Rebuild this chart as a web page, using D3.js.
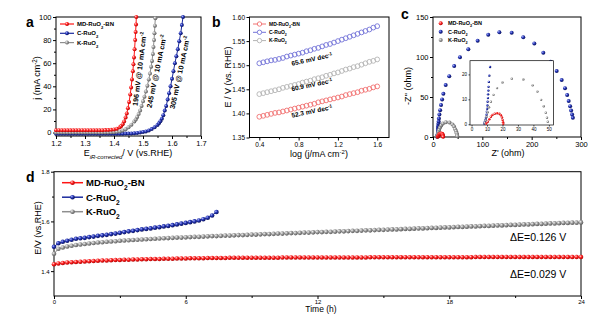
<!DOCTYPE html>
<html>
<head>
<meta charset="utf-8">
<script src="https://cdn.jsdelivr.net/npm/d3@7"></script>
<style>
body { margin: 0; background: #fff; }
svg text { font-family: Arial, "Liberation Sans", sans-serif; }
</style>
</head>
<body>
<svg id="fig" width="600" height="321"></svg>
<script>
// ---- data ----
const seriesNames = ["MD-RuO2-BN", "C-RuO2", "K-RuO2"];

// (a) LSV curves, [E (V), j (mA cm-2)]
const lsvRed = [[1.20,2.0],[1.21,2.0],[1.22,2.0],[1.23,2.0],[1.24,2.0],[1.25,2.0],[1.26,2.0],[1.27,2.0],[1.28,2.0],[1.29,2.0],
  [1.30,2.0],[1.31,2.0],[1.32,2.0],[1.33,2.0],[1.34,2.0],[1.35,2.0],[1.36,2.0],[1.37,2.1],[1.38,2.2],[1.39,2.4],
  [1.40,2.7],[1.41,3.3],[1.42,4.5],[1.425,5.6],[1.43,7.2],[1.435,9.5],[1.44,13.0],[1.444,16.5],[1.448,21.0],[1.452,26.5],
  [1.456,33.0],[1.459,39.0],[1.462,46.0],[1.465,53.0],[1.467,59.0],[1.469,65.0],[1.471,72.0],[1.473,80.0],[1.4745,87.0],[1.476,93.5],[1.477,100.0]];
const lsvBlue = [[1.20,-1.0],[1.21,-1.0],[1.22,-1.0],[1.23,-1.0],[1.24,-1.0],[1.25,-1.0],[1.26,-1.0],[1.27,-1.0],[1.28,-1.0],[1.29,-1.0],
  [1.30,-1.0],[1.31,-1.0],[1.32,-1.0],[1.33,-1.0],[1.34,-1.0],[1.35,-1.0],[1.36,-1.0],[1.37,-1.0],[1.38,-1.0],[1.39,-1.0],
  [1.40,-1.0],[1.41,-1.0],[1.42,-1.0],[1.43,-1.0],[1.44,-0.9],[1.45,-0.9],[1.46,-0.8],[1.47,-0.6],[1.48,-0.3],[1.49,0.1],
  [1.50,0.5],[1.51,1.0],[1.52,1.8],[1.53,3.0],[1.54,4.5],[1.55,6.5],[1.555,8.0],[1.56,9.7],[1.565,12.0],[1.57,15.0],
  [1.575,19.0],[1.58,23.0],[1.585,28.5],[1.59,34.0],[1.595,40.0],[1.60,46.5],[1.605,53.0],[1.61,60.0],[1.615,66.0],[1.62,72.0],
  [1.625,79.0],[1.63,86.0],[1.634,93.0],[1.638,100.0]];
const lsvGray = [[1.20,0.0],[1.21,0.0],[1.22,0.0],[1.23,0.0],[1.24,0.0],[1.25,0.0],[1.26,0.0],[1.27,0.0],[1.28,0.0],[1.29,0.0],
  [1.30,0.0],[1.31,0.0],[1.32,0.0],[1.33,0.0],[1.34,0.0],[1.35,0.0],[1.36,0.0],[1.37,0.1],[1.38,0.1],[1.39,0.2],
  [1.40,0.3],[1.41,0.6],[1.42,1.0],[1.43,1.8],[1.44,2.8],[1.45,4.5],[1.46,6.8],[1.47,9.5],[1.475,11.3],[1.48,13.5],
  [1.485,16.0],[1.49,19.0],[1.495,23.0],[1.50,27.0],[1.505,31.0],[1.51,35.5],[1.515,40.5],[1.52,46.0],[1.524,51.0],[1.528,57.0],
  [1.531,62.0],[1.534,68.0],[1.536,74.0],[1.538,80.0],[1.5395,86.0],[1.541,92.5],[1.5425,99.0]];
const lsvLabels = ["196 mV @ 10 mA cm", "245 mV @ 10 mA cm", "305 mV @ 10 mA cm"];
const lsvLabelAt = [[1.488,55],[1.547,53],[1.627,52]];

// (b) Tafel plots
const tafelX = [0.40,0.44,0.48,0.52,0.56,0.60,0.64,0.68,0.72,0.76,0.80,0.84,0.88,0.92,0.96,1.00,
  1.04,1.08,1.12,1.16,1.20,1.24,1.28,1.32,1.36,1.40,1.44,1.48,1.52,1.56,1.60];
const tafelRed = [1.393,1.395,1.397,1.399,1.401,1.402,1.404,1.406,1.408,1.410,1.412,1.414,1.416,1.418,1.420,1.423,
  1.425,1.427,1.429,1.431,1.433,1.435,1.438,1.440,1.442,1.444,1.447,1.449,1.451,1.454,1.456];
const tafelBlue = [1.504,1.506,1.508,1.510,1.511,1.513,1.515,1.518,1.520,1.522,1.524,1.526,1.529,1.531,1.534,1.536,
  1.539,1.542,1.544,1.547,1.550,1.553,1.556,1.559,1.562,1.565,1.568,1.571,1.574,1.578,1.581];
const tafelGray = [1.440,1.442,1.444,1.446,1.448,1.450,1.453,1.455,1.457,1.459,1.461,1.464,1.466,1.468,1.471,1.473,
  1.475,1.478,1.480,1.483,1.485,1.488,1.491,1.493,1.496,1.498,1.501,1.504,1.507,1.509,1.512];
const tafelSlopes = ["52.3", "65.6", "60.9"];
const tafelLabelAt = [[0.94,1.400],[0.94,1.508],[0.94,1.455]];

// (c) Nyquist plots, [Z' (ohm), -Z'' (ohm)]
const eisRed = [[9.5,0.3],[10.5,1.0],[11.5,2.0],[12.5,3.0],[13.5,3.7],[15.0,4.2],[16.5,4.4],[18.0,4.2],[19.0,3.6],
  [19.7,2.7],[20.1,1.7],[20.4,0.8],[20.5,0.2]];
const eisBlue = [[8.2,0.3],[8.6,1.0],[9.0,1.8],[9.4,2.7],[9.7,3.8],[9.9,5.0],[10.1,6.2],[10.3,7.5],[10.4,9.0],[10.6,10.5],
  [10.7,12.0],[10.9,13.5],[11.0,15.0],[11.2,17.0],[11.5,19.5],[12.0,23.0],[13.0,28.0],[14.5,33.5],[16.3,40.0],[18.5,47.0],
  [21.0,54.0],[25.7,65.0],[33.0,76.0],[43.0,88.7],[54.7,99.6],[71.6,109.6],[90.5,120.4],[112.0,127.9],[134.5,130.9],[159.5,130.4],
  [183.0,124.6],[205.4,117.0],[223.6,105.4],[238.5,94.0],[250.7,82.5],[260.8,71.3],[267.6,61.0],[272.0,52.5],[275.0,45.0],
  [278.0,38.5],[280.0,33.0],[282.0,28.0],[283.5,24.0]];
const eisGray = [[8.5,0.5],[9.0,1.5],[9.6,3.0],[10.4,4.8],[11.3,6.8],[12.5,9.0],[14.2,11.8],[16.5,14.5],[20.0,16.8],
  [26.0,18.3],[33.5,18.0],[39.5,15.6],[42.6,13.1],[45.0,9.8],[46.7,7.2],[48.0,4.6],[48.8,2.6],[49.3,1.0]];

// (d) chronopotentiometry, E (V vs RHE) every 0.2 h
const dTime = [0,0.2,0.4,0.6,0.8,1,1.2,1.4,1.6,1.8,
  2,2.2,2.4,2.6,2.8,3,3.2,3.4,3.6,3.8,
  4,4.2,4.4,4.6,4.8,5,5.2,5.4,5.6,5.8,
  6,6.2,6.4,6.6,6.8,7,7.2,7.4,7.6,7.8,
  8,8.2,8.4,8.6,8.8,9,9.2,9.4,9.6,9.8,
  10,10.2,10.4,10.6,10.8,11,11.2,11.4,11.6,11.8,
  12,12.2,12.4,12.6,12.8,13,13.2,13.4,13.6,13.8,
  14,14.2,14.4,14.6,14.8,15,15.2,15.4,15.6,15.8,
  16,16.2,16.4,16.6,16.8,17,17.2,17.4,17.6,17.8,
  18,18.2,18.4,18.6,18.8,19,19.2,19.4,19.6,19.8,
  20,20.2,20.4,20.6,20.8,21,21.2,21.4,21.6,21.8,
  22,22.2,22.4,22.6,22.8,23,23.2,23.4,23.6,23.8,
  24];
const stabRed = [1.428,1.431,1.433,1.435,1.436,1.437,1.438,1.439,1.440,1.441,
  1.442,1.443,1.443,1.444,1.445,1.445,1.446,1.446,1.447,1.447,
  1.448,1.448,1.449,1.449,1.449,1.450,1.450,1.450,1.451,1.451,
  1.451,1.452,1.452,1.452,1.452,1.453,1.453,1.453,1.453,1.453,
  1.454,1.454,1.454,1.454,1.454,1.454,1.454,1.454,1.454,1.454,
  1.454,1.454,1.455,1.455,1.455,1.455,1.455,1.455,1.455,1.455,
  1.455,1.455,1.455,1.455,1.455,1.455,1.455,1.455,1.455,1.455,
  1.455,1.455,1.456,1.456,1.456,1.456,1.456,1.456,1.456,1.456,
  1.456,1.456,1.456,1.456,1.456,1.456,1.456,1.456,1.456,1.456,
  1.456,1.456,1.456,1.456,1.456,1.456,1.457,1.457,1.457,1.457,
  1.457,1.457,1.457,1.457,1.457,1.457,1.457,1.457,1.457,1.457,
  1.457,1.457,1.457,1.457,1.457,1.457,1.457,1.457,1.457,1.457,
  1.457];
const stabBlue = [1.498,1.512,1.518,1.522,1.526,1.530,1.532,1.534,1.537,1.539,
  1.542,1.544,1.546,1.549,1.551,1.554,1.557,1.560,1.562,1.565,
  1.568,1.570,1.572,1.575,1.577,1.580,1.582,1.585,1.588,1.591,
  1.594,1.597,1.600,1.604,1.609,1.615,1.624,1.638];
const stabGray = [1.470,1.490,1.495,1.499,1.502,1.505,1.507,1.509,1.511,1.513,
  1.515,1.516,1.518,1.519,1.520,1.522,1.523,1.524,1.525,1.526,
  1.527,1.528,1.529,1.530,1.531,1.532,1.533,1.534,1.535,1.535,
  1.536,1.537,1.538,1.538,1.539,1.540,1.541,1.541,1.542,1.543,
  1.543,1.544,1.545,1.545,1.546,1.547,1.547,1.548,1.549,1.549,
  1.550,1.551,1.551,1.552,1.553,1.553,1.554,1.555,1.555,1.556,
  1.557,1.557,1.558,1.558,1.559,1.560,1.560,1.561,1.562,1.562,
  1.563,1.564,1.564,1.565,1.566,1.566,1.567,1.568,1.568,1.569,
  1.570,1.570,1.571,1.572,1.572,1.573,1.574,1.574,1.575,1.576,
  1.576,1.577,1.578,1.578,1.579,1.580,1.580,1.581,1.582,1.582,
  1.583,1.584,1.584,1.585,1.586,1.586,1.587,1.588,1.588,1.589,
  1.590,1.590,1.591,1.592,1.592,1.593,1.594,1.594,1.595,1.595,
  1.596];
const deltaE = ["0.126", "0.029"];

// ---- styles ----
const col = {red: "#ff1414", blue: "#1a2a9e", gray: "#8e8e8e"};
const openCol = {red: "#f07070", blue: "#7474d8", gray: "#b4b4b4"};
const keys = ["red", "blue", "gray"];

const svg = d3.select("#fig");
svg.append("rect").attr("width", 600).attr("height", 321).attr("fill", "#fff");

const defs = svg.append("defs");
const ballStops = {
  red: ["#ffd6d6", "#ff2020", "#a80000"],
  blue: ["#aab0ff", "#2233b0", "#0a1058"],
  gray: ["#f4f4f4", "#9c9c9c", "#555"]
};
keys.forEach(k => {
  const g = defs.append("radialGradient").attr("id", "ball-" + k)
    .attr("cx", "35%").attr("cy", "35%").attr("r", "70%");
  g.append("stop").attr("offset", "0%").attr("stop-color", ballStops[k][0]);
  g.append("stop").attr("offset", "45%").attr("stop-color", ballStops[k][1]);
  g.append("stop").attr("offset", "100%").attr("stop-color", ballStops[k][2]);
});

function rich(t, parts) {
  parts.forEach(p => {
    const s = t.append("tspan").text(p.t);
    if (p.k) s.attr("baseline-shift", p.k).attr("font-size", p.fs || "70%");
    if (p.it) s.attr("font-style", "italic");
  });
  return t;
}
function nameParts(n) {
  const i = n.indexOf("O2");
  return [{t: n.slice(0, i + 1)}, {t: "2", k: "sub"}, {t: n.slice(i + 2)}];
}

function axes(g, x, y, o) {
  const [x0, x1] = x.range(), [y0, y1] = y.range();
  const fs = o.fs || 7.5;
  const bx = g.append("g").attr("transform", `translate(0,${y0})`)
    .call(d3.axisBottom(x).tickValues(o.xt).tickSize(o.ts || 3).tickPadding(o.pad || 1.5).tickFormat(o.fx || d3.format("")));
  const by = g.append("g").attr("transform", `translate(${x0},0)`)
    .call(d3.axisLeft(y).tickValues(o.yt).tickSize(o.ts || 3).tickPadding(1.5).tickFormat(o.fy || d3.format("")));
  [bx, by].forEach(a => {
    a.attr("font-size", fs).attr("font-family", null);
    a.select(".domain").remove();
    a.selectAll("line").attr("stroke-width", o.sw || 1);
  });
  if (o.xm) g.append("g").attr("transform", `translate(0,${y0})`)
    .call(d3.axisBottom(x).tickValues(o.xm).tickSize(2).tickFormat(""))
    .call(a => a.select(".domain").remove()).selectAll("line").attr("stroke-width", o.sw || 1);
  if (o.ym) g.append("g").attr("transform", `translate(${x0},0)`)
    .call(d3.axisLeft(y).tickValues(o.ym).tickSize(2).tickFormat(""))
    .call(a => a.select(".domain").remove()).selectAll("line").attr("stroke-width", o.sw || 1);
  g.append("rect").attr("x", x0).attr("y", y1).attr("width", x1 - x0).attr("height", y0 - y1)
    .attr("fill", o.fill || "none").attr("stroke", "#000").attr("stroke-width", o.sw || 1);
}

function panelLetter(t, x, y) {
  svg.append("text").attr("x", x).attr("y", y).attr("font-size", 14).attr("font-weight", "bold").text(t);
}

// ================= (a) =================
{
  const x = d3.scaleLinear([1.2, 1.7], [56, 201]);
  const y = d3.scaleLinear([-3, 100], [136, 17]);
  const g = svg.append("g");
  axes(g, x, y, {xt: [1.2,1.3,1.4,1.5,1.6,1.7], yt: [0,20,40,60,80,100],
    xm: [1.25,1.35,1.45,1.55,1.65], ym: [10,30,50,70,90], fx: d3.format(".1f")});
  const line = d3.line().x(d => x(d[0])).y(d => y(d[1]));
  const sets = {red: lsvRed, blue: lsvBlue, gray: lsvGray};
  ["blue", "gray", "red"].forEach(k => {
    g.append("path").datum(sets[k]).attr("d", line).attr("fill", "none").attr("stroke", col[k]).attr("stroke-width", 1);
    g.selectAll(null).data(sets[k]).join("circle")
      .attr("cx", d => x(d[0])).attr("cy", d => y(d[1])).attr("r", 2)
      .attr("fill", `url(#ball-${k})`);
  });
  lsvLabels.forEach((s, i) => {
    const t = g.append("text").attr("text-anchor", "middle").attr("font-size", 7.2).attr("font-weight", "bold")
      .attr("transform", `translate(${x(lsvLabelAt[i][0])},${y(lsvLabelAt[i][1])}) rotate(${i === 0 ? -83 : -78})`)
      .attr("dy", "0.35em");
    rich(t, [{t: s}, {t: "-2", k: "super"}]);
  });
  seriesNames.forEach((n, i) => {
    const yy = 24 + i * 9.3;
    g.append("line").attr("x1", 60).attr("x2", 74).attr("y1", yy).attr("y2", yy)
      .attr("stroke", col[keys[i]]).attr("stroke-width", 1.2);
    g.append("circle").attr("cx", 67).attr("cy", yy).attr("r", 2).attr("fill", `url(#ball-${keys[i]})`);
    rich(g.append("text").attr("x", 77).attr("y", yy).attr("dy", "0.35em")
      .attr("font-size", 6).attr("font-weight", "bold"), nameParts(n));
  });
  rich(g.append("text").attr("transform", "translate(40,78) rotate(-90)").attr("text-anchor", "middle").attr("font-size", 9),
    [{t: "j (mA cm"}, {t: "-2", k: "super"}, {t: ")"}]);
  rich(g.append("text").attr("x", 128).attr("y", 156).attr("text-anchor", "middle").attr("font-size", 9),
    [{t: "E"}, {t: "iR-corrected", k: "sub", it: true, fs: 6}, {t: "/ V (vs.RHE)"}]);
  panelLetter("a", 26, 27);
}

// ================= (b) =================
{
  const x = d3.scaleLinear([0.3, 1.72], [249.5, 389]);
  const y = d3.scaleLinear([1.35, 1.60], [137.5, 17]);
  const g = svg.append("g");
  axes(g, x, y, {xt: [0.4,0.8,1.2,1.6], yt: [1.35,1.40,1.45,1.50,1.55,1.60],
    xm: [0.6,1.0,1.4], fx: d3.format(".1f"), fy: d3.format(".2f"), fs: 6.5});
  const sets = {red: tafelRed, blue: tafelBlue, gray: tafelGray};
  keys.forEach(k => {
    g.selectAll(null).data(sets[k]).join("circle")
      .attr("cx", (d, i) => x(tafelX[i])).attr("cy", d => y(d)).attr("r", 2.4)
      .attr("fill", "none").attr("stroke", openCol[k]).attr("stroke-width", 0.9);
  });
  tafelSlopes.forEach((s, i) => {
    const t = g.append("text").attr("text-anchor", "middle").attr("font-size", 6.5).attr("font-weight", "bold")
      .attr("transform", `translate(${x(tafelLabelAt[i][0])},${y(tafelLabelAt[i][1])}) rotate(-12)`);
    rich(t, [{t: s + " mV dec"}, {t: "-1", k: "super"}]);
  });
  seriesNames.forEach((n, i) => {
    const yy = 24 + i * 8.3;
    g.append("line").attr("x1", 253).attr("x2", 266).attr("y1", yy).attr("y2", yy)
      .attr("stroke", openCol[keys[i]]).attr("stroke-width", 1);
    g.append("circle").attr("cx", 259.5).attr("cy", yy).attr("r", 2.2).attr("fill", "#fff")
      .attr("stroke", openCol[keys[i]]).attr("stroke-width", 0.9);
    rich(g.append("text").attr("x", 269).attr("y", yy).attr("dy", "0.35em")
      .attr("font-size", 5).attr("font-weight", "bold"), nameParts(n));
  });
  g.append("text").attr("transform", "translate(231,77) rotate(-90)").attr("text-anchor", "middle")
    .attr("font-size", 9).text("E / V (vs. RHE)");
  rich(g.append("text").attr("x", 319).attr("y", 157).attr("text-anchor", "middle").attr("font-size", 9),
    [{t: "log (j/mA cm"}, {t: "-2", k: "super", fs: 6}, {t: ")"}]);
  panelLetter("b", 212, 27);
}

// ================= (c) =================
{
  const x = d3.scaleLinear([0, 300], [433, 581]);
  const y = d3.scaleLinear([0, 150], [137, 17]);
  const g = svg.append("g");
  axes(g, x, y, {xt: [0,100,200,300], yt: [0,50,100,150], xm: [50,150,250], ym: [25,75,125]});
  const sets = {red: eisRed, blue: eisBlue, gray: eisGray};
  ["blue", "gray", "red"].forEach(k => {
    g.selectAll(null).data(sets[k]).join("circle")
      .attr("cx", d => x(d[0])).attr("cy", d => y(d[1])).attr("r", 2)
      .attr("fill", `url(#ball-${k})`);
  });
  // inset
  const xi = d3.scaleLinear([-1, 53], [470, 553.5]);
  const yi = d3.scaleLinear([-0.3, 25.5], [125, 60.7]);
  const gi = svg.append("g");
  gi.append("rect").attr("x", 470).attr("y", 60.7).attr("width", 83.5).attr("height", 64.3).attr("fill", "#fff");
  axes(gi, xi, yi, {xt: [0,10,20,30,40,50], yt: [0,10,20], ts: 1.5, fs: 4.5, sw: 0.7});
  ["blue", "gray", "red"].forEach(k => {
    gi.selectAll(null).data(sets[k].filter(d => d[0] <= 53 && d[1] <= 25.5)).join("circle")
      .attr("cx", d => xi(d[0])).attr("cy", d => yi(d[1])).attr("r", 1.2)
      .attr("fill", `url(#ball-${k})`);
  });
  seriesNames.forEach((n, i) => {
    const yy = 23.3 + i * 8.4;
    g.append("circle").attr("cx", 440.7).attr("cy", yy).attr("r", 2).attr("fill", `url(#ball-${keys[i]})`);
    rich(g.append("text").attr("x", 448).attr("y", yy).attr("dy", "0.35em")
      .attr("font-size", 5.5).attr("font-weight", "bold"), nameParts(n));
  });
  g.append("text").attr("transform", "translate(411,86) rotate(-90)").attr("text-anchor", "middle")
    .attr("font-size", 9).text("-Z'' (ohm)");
  g.append("text").attr("x", 508).attr("y", 156).attr("text-anchor", "middle").attr("font-size", 9).text("Z' (ohm)");
  panelLetter("c", 401, 19);
}

// ================= (d) =================
{
  const x = d3.scaleLinear([0, 24], [54, 581]);
  const y = d3.scaleLinear([1.3, 1.8], [296, 171.7]);
  const g = svg.append("g");
  axes(g, x, y, {xt: [0,6,12,18,24], yt: [1.4,1.6,1.8], xm: [3,9,15,21], ym: [1.5,1.7],
    fx: d3.format("d"), fy: d3.format(".1f"), fs: 6, pad: 1});
  const sets = {red: stabRed, blue: stabBlue, gray: stabGray};
  const line = d3.line().x((d, i) => x(dTime[i])).y(d => y(d));
  ["gray", "blue", "red"].forEach(k => {
    g.append("path").datum(sets[k]).attr("d", line).attr("fill", "none").attr("stroke", col[k]).attr("stroke-width", 1);
    g.selectAll(null).data(sets[k]).join("circle")
      .attr("cx", (d, i) => x(dTime[i])).attr("cy", d => y(d)).attr("r", 2.3)
      .attr("fill", `url(#ball-${k})`);
  });
  seriesNames.forEach((n, i) => {
    const yy = 182.7 + i * 14.5;
    g.append("line").attr("x1", 62).attr("x2", 83).attr("y1", yy).attr("y2", yy)
      .attr("stroke", col[keys[i]]).attr("stroke-width", 1.5);
    g.append("circle").attr("cx", 72.5).attr("cy", yy).attr("r", 2.3).attr("fill", `url(#ball-${keys[i]})`);
    rich(g.append("text").attr("x", 86).attr("y", yy).attr("dy", "0.35em")
      .attr("font-size", 9.5).attr("font-weight", "bold"), nameParts(n));
  });
  deltaE.forEach((s, i) => {
    g.append("text").attr("x", 510).attr("y", i === 0 ? 241 : 278).attr("font-size", 10.5).text("\u0394E=" + s + " V");
  });
  g.append("text").attr("transform", "translate(41,228) rotate(-90)").attr("text-anchor", "middle")
    .attr("font-size", 9).text("E/V (vs.RHE)");
  g.append("text").attr("x", 321).attr("y", 312).attr("text-anchor", "middle").attr("font-size", 8.5).text("Time (h)");
  panelLetter("d", 26, 182);
}
</script>
</body>
</html>
